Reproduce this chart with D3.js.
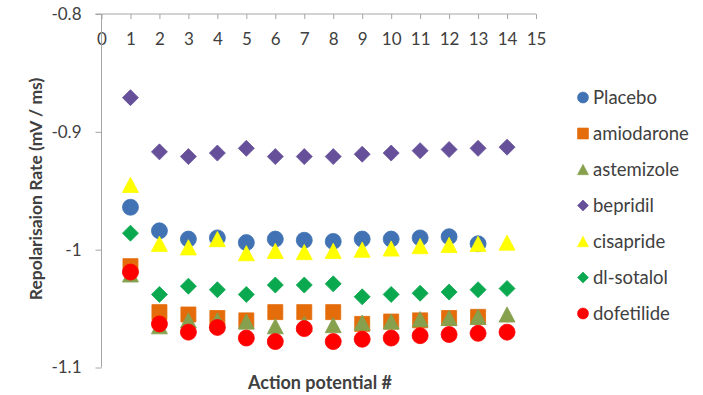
<!DOCTYPE html>
<html>
<head>
<meta charset="utf-8">
<script src="https://cdn.jsdelivr.net/npm/d3@7/dist/d3.min.js"></script>
<style>
  html, body { margin: 0; padding: 0; background: #fff; }
  svg { display: block; }
  text { font-family: Lato, "Open Sans", sans-serif; fill: #404040; }
</style>
</head>
<body>
<svg id="chart" width="703" height="395"></svg>
<script>
// Action potential index (x) for each measurement
const apIndex = [1, 2, 3, 4, 5, 6, 7, 8, 9, 10, 11, 12, 13, 14];

// Repolarisation rate (mV / ms) per compound
const placebo     = [-0.964, -0.984, -0.991, -0.990, -0.994, -0.991, -0.992, -0.993, -0.991, -0.991, -0.990, -0.989, -0.995];
const amiodarone  = [-1.014, -1.053, -1.055, -1.058, -1.060, -1.053, -1.053, -1.053, -1.063, -1.061, -1.060, -1.058, -1.057];
const astemizole  = [-1.021, -1.065, -1.060, -1.060, -1.061, -1.065, -1.063, -1.064, -1.062, -1.061, -1.059, -1.058, -1.057, -1.055];
const bepridil    = [-0.871, -0.917, -0.921, -0.918, -0.914, -0.921, -0.921, -0.921, -0.919, -0.918, -0.916, -0.915, -0.914, -0.913];
const cisapride   = [-0.945, -0.995, -0.998, -0.991, -1.003, -1.001, -1.002, -1.001, -1.000, -0.999, -0.997, -0.996, -0.995, -0.994];
const dlSotalol   = [-0.986, -1.038, -1.031, -1.034, -1.038, -1.030, -1.030, -1.029, -1.040, -1.038, -1.037, -1.036, -1.034, -1.033];
const dofetilide  = [-1.019, -1.063, -1.070, -1.066, -1.075, -1.078, -1.067, -1.078, -1.076, -1.075, -1.073, -1.072, -1.071, -1.070];

const seriesNames = ["Placebo", "amiodarone", "astemizole", "bepridil", "cisapride", "dl-sotalol", "dofetilide"];
const seriesValues = [placebo, amiodarone, astemizole, bepridil, cisapride, dlSotalol, dofetilide];

const xTicks = d3.range(0, 16);
const yTicks = [-0.8, -0.9, -1.0, -1.1];
const xTitle = "Action potential #";
const yTitle = "Repolarisaion Rate (mV / ms)";

// Marker style per series
const styles = [
  { shape: "circle",   color: "#4072B4" },
  { shape: "square",   color: "#E46C0A" },
  { shape: "triangle", color: "#86A04D" },
  { shape: "diamond",  color: "#66509A" },
  { shape: "triangle", color: "#FFFF00" },
  { shape: "diamond",  color: "#0AA84F" },
  { shape: "circle",   color: "#FF0000" }
];

function markerPath(shape, s) {
  const h = s / 2;
  const p = d3.path();
  if (shape === "circle") {
    p.arc(0, 0, h, 0, 2 * Math.PI);
  } else if (shape === "square") {
    p.rect(-h, -h, s, s);
  } else if (shape === "triangle") {
    p.moveTo(0, -h * 0.95); p.lineTo(h, h * 0.95); p.lineTo(-h, h * 0.95); p.closePath();
  } else if (shape === "diamond") {
    p.moveTo(0, -h); p.lineTo(h, 0); p.lineTo(0, h); p.lineTo(-h, 0); p.closePath();
  }
  return p.toString();
}
const markerSize = { circle: 16, square: 15, triangle: 16, diamond: 16 };

const svg = d3.select("#chart");

const x = d3.scaleLinear().domain([0, 15]).range([101.5, 536]);
const y = d3.scaleLinear().domain([-0.8, -1.1]).range([14, 367.5]);

const axisColor = "#A6A6A6";

// x axis sits along the top (value -0.8), labels drawn just below it
const xAxis = svg.append("g")
  .attr("transform", `translate(0,${y(-0.8)})`)
  .call(d3.axisBottom(x).tickValues(xTicks).tickSize(5).tickPadding(14).tickFormat(d3.format("d")));
xAxis.select(".domain").attr("stroke", axisColor).attr("d", `M${x(0) - 6},0H${x(15)}`);
xAxis.selectAll(".tick line").attr("stroke", axisColor);
xAxis.selectAll(".tick text").attr("font-size", 17).attr("fill", "#404040").attr("dy", "0.71em").attr("y", 19);

// y axis
const yAxis = svg.append("g")
  .attr("transform", `translate(${x(0)},0)`)
  .call(d3.axisLeft(y).tickValues(yTicks).tickSize(6).tickPadding(14).tickFormat(d => d3.format("")(d).replace("−", "-")));
yAxis.select(".domain").attr("stroke", axisColor).attr("d", `M0,${y(-0.8)}V${y(-1.1)}`);
yAxis.selectAll(".tick line").attr("stroke", axisColor);
yAxis.selectAll(".tick text").attr("font-size", 17).attr("fill", "#404040");

// the y axis passes over the "0" label, so draw it last
svg.append("line")
  .attr("x1", x(0)).attr("x2", x(0))
  .attr("y1", y(-0.8)).attr("y2", y(-0.8) + 34)
  .attr("stroke", axisColor);

// data markers, one group per series in legend order
seriesValues.forEach((vals, i) => {
  const st = styles[i];
  svg.append("g").attr("class", "series")
    .selectAll("path")
    .data(vals.map((v, j) => ({ ap: apIndex[j], v })))
    .join("path")
    .attr("transform", d => `translate(${x(d.ap)},${y(d.v)})`)
    .attr("d", markerPath(st.shape, markerSize[st.shape]))
    .attr("fill", st.color)
    .attr("stroke", st.color)
    .attr("stroke-width", 0.8);
});

// axis titles
svg.append("text")
  .attr("x", 320).attr("y", 389)
  .attr("text-anchor", "middle")
  .attr("font-size", 18).attr("font-weight", "bold").attr("fill", "#000")
  .text(xTitle);

svg.append("text")
  .attr("transform", "translate(42,189) rotate(-90)")
  .attr("text-anchor", "middle")
  .attr("font-size", 17.5).attr("font-weight", "bold").attr("fill", "#000")
  .text(yTitle);

// legend
const legend = svg.append("g");
seriesNames.forEach((name, i) => {
  const st = styles[i];
  const ly = 97.5 + i * 36;
  legend.append("path")
    .attr("transform", `translate(583,${ly})`)
    .attr("d", markerPath(st.shape, 11))
    .attr("fill", st.color).attr("stroke", st.color).attr("stroke-width", 0.6);
  legend.append("text")
    .attr("x", 593).attr("y", ly).attr("dy", "0.36em")
    .attr("font-size", 18.5).attr("fill", "#404040")
    .text(name);
});
</script>
</body>
</html>
